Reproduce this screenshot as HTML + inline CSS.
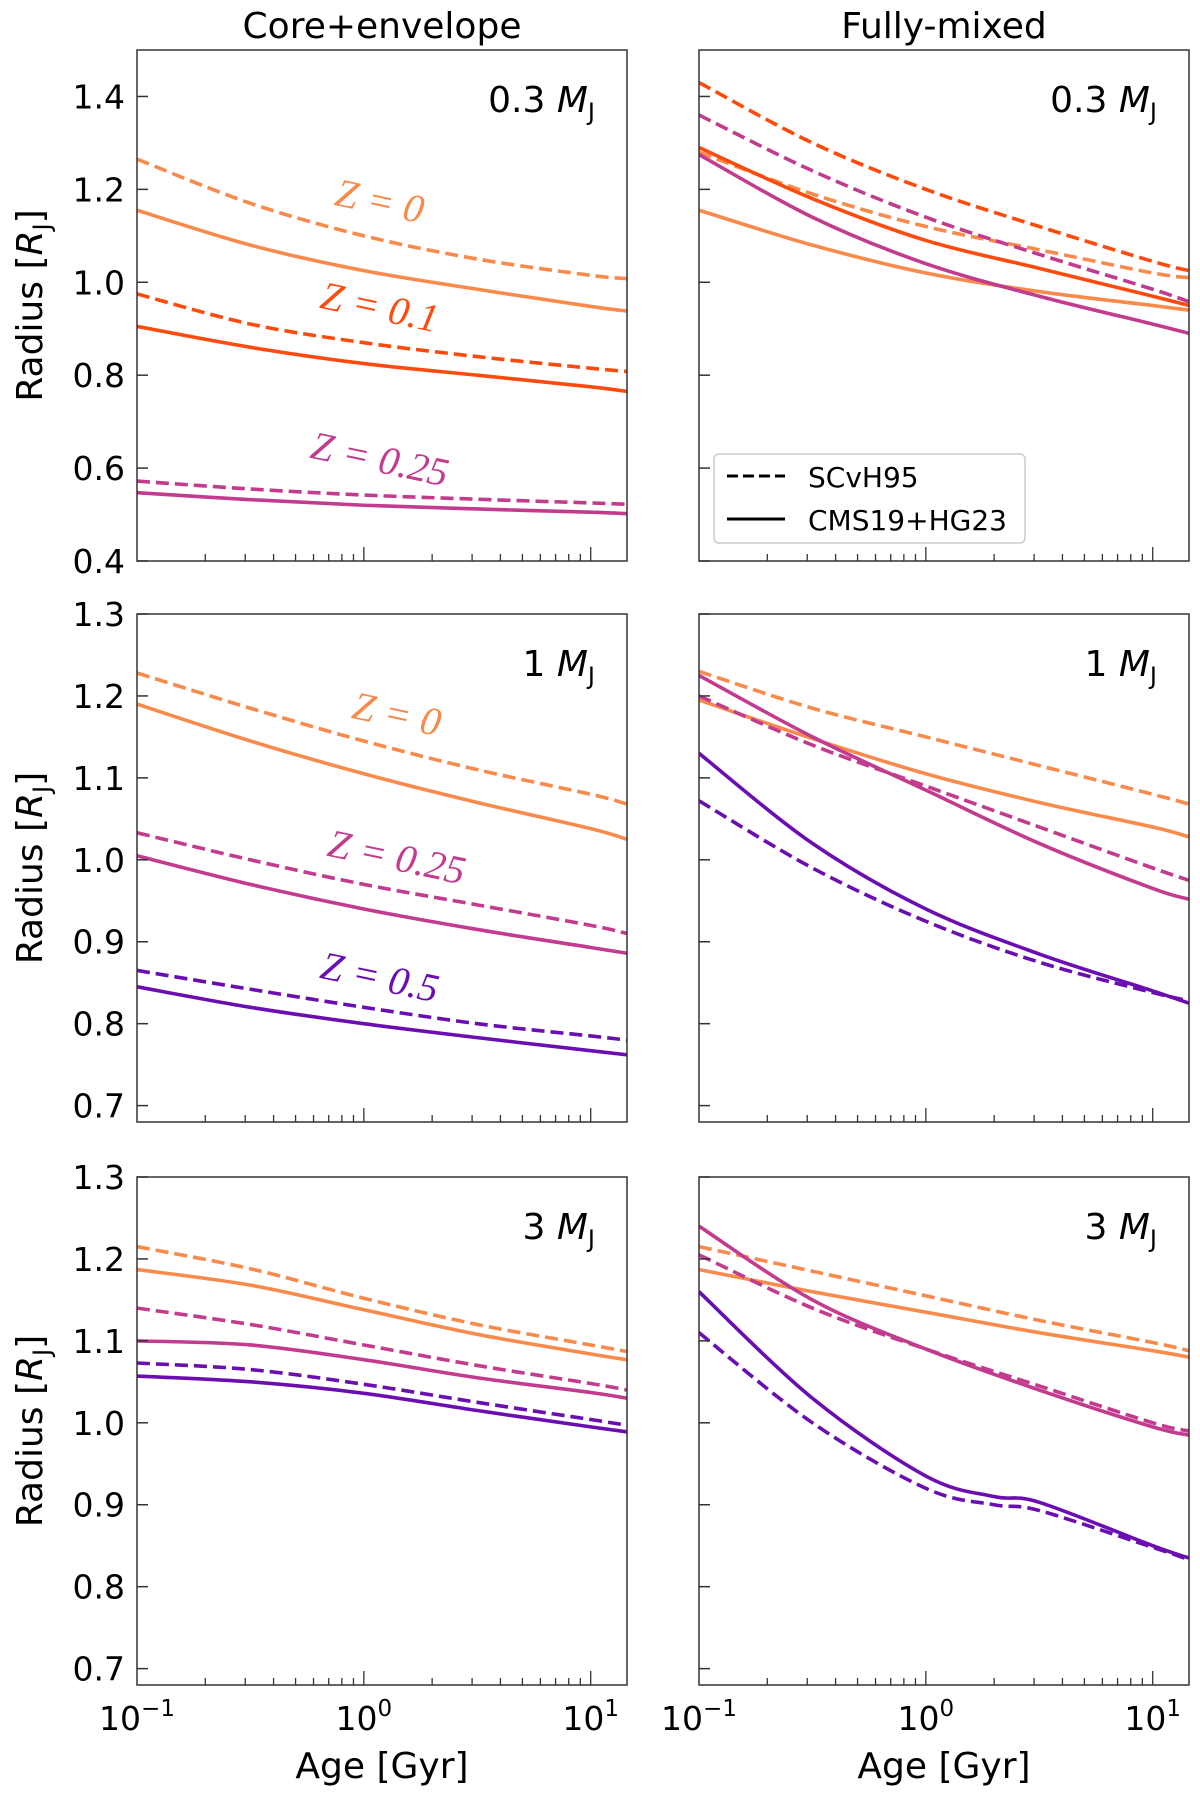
<!DOCTYPE html>
<html><head><meta charset="utf-8"><style>
body{margin:0;background:#fff}
svg text{font-family:"DejaVu Sans","Liberation Sans",sans-serif;fill:#000}
</style></head><body>
<svg id="fig" width="1200" height="1790" viewBox="0 0 1200 1790" xmlns="http://www.w3.org/2000/svg"></svg>
<script>
const logAges = [-1, -0.5, 0, 0.5, 1, 1.16];
const logAges3 = [-1, -0.5, 0, 0.3, 0.5, 1, 1.16];
const mcols = {z0:'#f88a4b', z01:'#fe4a0c', z025:'#c23b8e', z05:'#6a0eb2'};
const ce03_z0_d=[1.265,1.17,1.10,1.05,1.015,1.008];
const ce03_z0_s=[1.155,1.08,1.025,0.985,0.948,0.938];
const ce03_z01_d=[0.975,0.91,0.87,0.84,0.815,0.808];
const ce03_z01_s=[0.905,0.86,0.825,0.80,0.775,0.765];
const ce03_z025_d=[0.572,0.555,0.542,0.533,0.525,0.522];
const ce03_z025_s=[0.547,0.532,0.520,0.512,0.505,0.502];
const fm03_z01_d=[1.43,1.30,1.20,1.12,1.045,1.025];
const fm03_z025_d=[1.36,1.24,1.14,1.06,0.985,0.958];
const fm03_z0_d=[1.28,1.19,1.12,1.07,1.02,1.01];
const fm03_z01_s=[1.29,1.18,1.09,1.03,0.97,0.95];
const fm03_z025_s=[1.275,1.14,1.04,0.97,0.91,0.89];
const fm03_z0_s=[1.155,1.08,1.02,0.98,0.95,0.94];
const ce1_z0_d=[1.228,1.185,1.145,1.11,1.08,1.068];
const ce1_z0_s=[1.19,1.145,1.105,1.07,1.038,1.025];
const ce1_z025_d=[1.033,1.00,0.97,0.945,0.92,0.91];
const ce1_z025_s=[1.005,0.97,0.94,0.915,0.893,0.886];
const ce1_z05_d=[0.865,0.842,0.82,0.80,0.785,0.78];
const ce1_z05_s=[0.845,0.82,0.80,0.783,0.767,0.762];
const fm1_z0_d=[1.23,1.185,1.15,1.115,1.08,1.068];
const fm1_z0_s=[1.195,1.148,1.105,1.07,1.04,1.028];
const fm1_z025_d=[1.20,1.14,1.09,1.04,0.99,0.975];
const fm1_z025_s=[1.225,1.15,1.085,1.02,0.965,0.952];
const fm1_z05_d=[1.072,0.99,0.925,0.875,0.838,0.828];
const fm1_z05_s=[1.13,1.02,0.94,0.885,0.84,0.825];
const ce3_z0_d=[1.215,1.188,1.152,1.12,1.095,1.087];
const ce3_z0_s=[1.187,1.168,1.138,1.108,1.084,1.077];
const ce3_z025_d=[1.14,1.12,1.095,1.07,1.048,1.04];
const ce3_z025_s=[1.10,1.095,1.077,1.055,1.037,1.03];
const ce3_z05_d=[1.073,1.065,1.047,1.025,1.004,0.997];
const ce3_z05_s=[1.057,1.05,1.036,1.015,0.995,0.989];
const fm3_z0_d=[1.215,1.185,1.155,1.125,1.098,1.088];
const fm3_z0_s=[1.187,1.16,1.135,1.11,1.088,1.08];
const fm3_z025_d=[1.205,1.14,1.09,1.045,1.0,0.99];
const fm3_z025_s=[1.24,1.15,1.09,1.04,0.995,0.985];
const fm3_z05_d=[1.11,1.00,0.92,0.90,0.893,0.848,0.833];
const fm3_z05_s=[1.16,1.03,0.935,0.91,0.903,0.85,0.835];
const yTicks1=[0.4,0.6,0.8,1.0,1.2,1.4];
const yTicks2=[0.7,0.8,0.9,1.0,1.1,1.2,1.3];

const NS='http://www.w3.org/2000/svg';
const svg=document.getElementById('fig');
function mk(tag,attrs,parent){const e=document.createElementNS(NS,tag);for(const k in attrs)e.setAttribute(k,attrs[k]);(parent||svg).appendChild(e);return e;}
const cols=[137,699], W=490, xmin=-1, xmax=1.16;
const rows=[{t:50,b:561,ymin:0.4,ymax:1.5,ticks:yTicks1},{t:614,b:1122,ymin:0.68,ymax:1.3,ticks:yTicks2},{t:1177,b:1685,ymin:0.68,ymax:1.3,ticks:yTicks2}];
function sx(c,lx){return cols[c]+(lx-xmin)/(xmax-xmin)*W;}
function sy(r,v){const R=rows[r];return R.b-(v-R.ymin)/(R.ymax-R.ymin)*(R.b-R.t);}
function pathD(pts){let d='M'+pts[0][0]+','+pts[0][1];for(let i=0;i<pts.length-1;i++){const p0=pts[Math.max(0,i-1)],p1=pts[i],p2=pts[i+1],p3=pts[Math.min(pts.length-1,i+2)];const c1x=p1[0]+(p2[0]-p0[0])/6,c1y=p1[1]+(p2[1]-p0[1])/6,c2x=p2[0]-(p3[0]-p1[0])/6,c2y=p2[1]-(p3[1]-p1[1])/6;d+=` C${c1x},${c1y} ${c2x},${c2y} ${p2[0]},${p2[1]}`;}return d;}
function series(r,c,xs,vals,color,dashed,name){const pts=xs.map((x,i)=>[sx(c,x),sy(r,vals[i])]);const p=mk('path',{d:pathD(pts),fill:'none',stroke:color,'stroke-width':3.6,'stroke-dasharray':dashed?'13,6':'none','clip-path':`url(#clip${r}${c})`});

}
const defs=mk('defs',{});
for(let r=0;r<3;r++)for(let c=0;c<2;c++){const cp=mk('clipPath',{id:`clip${r}${c}`},defs);mk('rect',{x:cols[c],y:rows[r].t,width:W,height:rows[r].b-rows[r].t},cp);}
const data=[
 [[ [ce03_z0_d,'z0',1],[ce03_z0_s,'z0',0],[ce03_z01_d,'z01',1],[ce03_z01_s,'z01',0],[ce03_z025_d,'z025',1],[ce03_z025_s,'z025',0] ],
  [ [fm03_z0_s,'z0',0],[fm03_z0_d,'z0',1],[fm03_z025_s,'z025',0],[fm03_z025_d,'z025',1],[fm03_z01_s,'z01',0],[fm03_z01_d,'z01',1] ]],
 [[ [ce1_z0_d,'z0',1],[ce1_z0_s,'z0',0],[ce1_z025_d,'z025',1],[ce1_z025_s,'z025',0],[ce1_z05_d,'z05',1],[ce1_z05_s,'z05',0] ],
  [ [fm1_z0_d,'z0',1],[fm1_z0_s,'z0',0],[fm1_z025_d,'z025',1],[fm1_z025_s,'z025',0],[fm1_z05_d,'z05',1],[fm1_z05_s,'z05',0] ]],
 [[ [ce3_z0_d,'z0',1],[ce3_z0_s,'z0',0],[ce3_z025_d,'z025',1],[ce3_z025_s,'z025',0],[ce3_z05_d,'z05',1],[ce3_z05_s,'z05',0] ],
  [ [fm3_z0_d,'z0',1],[fm3_z0_s,'z0',0],[fm3_z025_d,'z025',1],[fm3_z025_s,'z025',0],[fm3_z05_d,'z05',1,logAges3],[fm3_z05_s,'z05',0,logAges3] ]]
];
const massLbl=['0.3','1','3'];
const expLbl={'-1':'−1','0':'0','1':'1'};
for(let r=0;r<3;r++){const R=rows[r];
 for(let c=0;c<2;c++){
  data[r][c].forEach(s=>series(r,c,s[3]||logAges,s[0],mcols[s[1]],s[2],`curve-${s[1]}-${s[2]?'scvh95':'cms19'}`));
  const fr=mk('rect',{x:cols[c],y:R.t,width:W,height:R.b-R.t,fill:'none',stroke:'#333','stroke-width':1.5});
  
  
  R.ticks.forEach(v=>{const y=sy(r,v);mk('line',{x1:cols[c],x2:cols[c]+11,y1:y,y2:y,stroke:'#333','stroke-width':1.5});
   if(c===0){const t=mk('text',{x:cols[c]-12,y:y+12,'font-size':33,'text-anchor':'end'});t.textContent=v.toFixed(1);
    
    }});
  for(let d=-1;d<=1;d++)for(let m=1;m<=9;m++){const lx=d+Math.log10(m);if(lx>xmax)continue;const x=sx(c,lx);const L=m===1?14:7;if(m===1&&d===-1)continue;mk('line',{x1:x,x2:x,y1:R.b,y2:R.b-L,stroke:'#333','stroke-width':1.3});}
  const ml=mk('text',{x:cols[c]+W-32,y:R.t+62,'font-size':36,'text-anchor':'end'});
  ml.innerHTML=`${massLbl[r]} <tspan font-style="italic">M</tspan><tspan font-size="24" dy="8">J</tspan>`;
  
  
  if(r===2){[-1,0,1].forEach(e=>{const t=mk('text',{x:sx(c,e),y:1730,'font-size':33,'text-anchor':'middle'});t.innerHTML=`10<tspan font-size="23" dy="-14">${expLbl[String(e)]}</tspan>`;
   
   });
   const xl=mk('text',{x:cols[c]+W/2,y:1778,'font-size':36,'text-anchor':'middle'});xl.textContent='Age [Gyr]';
   
   }
 }
 const yl=mk('text',{x:0,y:0,'font-size':36,'text-anchor':'middle',transform:`translate(42,${(R.t+R.b)/2}) rotate(-90)`});
 yl.innerHTML='Radius [<tspan font-style="italic">R</tspan><tspan font-size="24" dy="8">J</tspan><tspan dy="-8">]</tspan>';
 
 
}
[['Core+envelope',137],['Fully-mixed',699]].forEach(([s,x])=>{const t=mk('text',{x:x+W/2,y:38,'font-size':36,'text-anchor':'middle'});t.textContent=s;
 
 });
const zl=[['Z = 0',377,214,mcols.z0],['Z = 0.1',377,320,mcols.z01],['Z = 0.25',377,472,mcols.z025],['Z = 0',394,727,mcols.z0],['Z = 0.25',394,870,mcols.z025],['Z = 0.5',377,990,mcols.z05]];
zl.forEach(([s,x,y,col])=>{const t=mk('text',{x:x,y:y,'font-size':40,'text-anchor':'middle','font-style':'italic',transform:`rotate(12 ${x} ${y})`,style:`font-family:"Liberation Serif",serif;fill:${col}`});
 t.textContent=s;
 
 });
const lg=mk('g',{});


mk('rect',{x:714,y:454,width:311,height:89,rx:5,fill:'#fff',stroke:'#ccc','stroke-width':1.5},lg);
mk('line',{x1:727,x2:785,y1:476,y2:476,stroke:'#000','stroke-width':3,'stroke-dasharray':'11,5'},lg);
mk('line',{x1:727,x2:785,y1:519,y2:519,stroke:'#000','stroke-width':3},lg);
const l1=mk('text',{x:808,y:487,'font-size':28},lg);l1.textContent='SCvH95';
const l2=mk('text',{x:808,y:530,'font-size':28},lg);l2.textContent='CMS19+HG23';
</script>
</body></html>
